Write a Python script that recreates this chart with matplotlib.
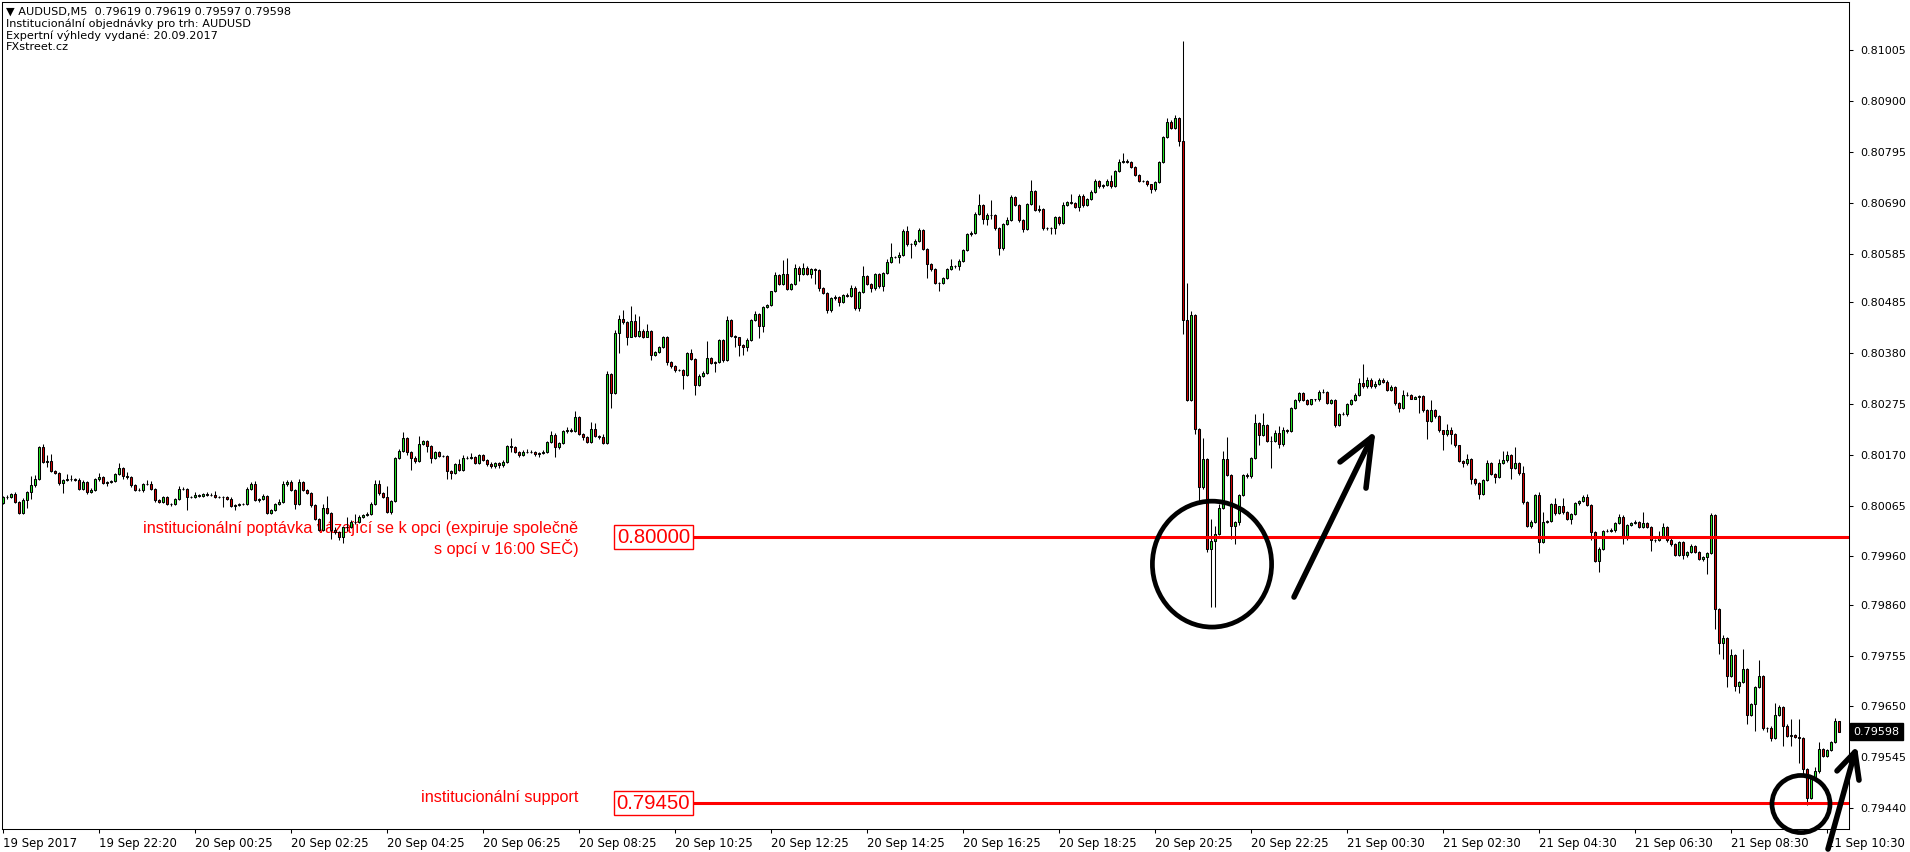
import matplotlib
matplotlib.use("Agg")
import matplotlib.pyplot as plt
from matplotlib.patches import Ellipse
import numpy as np

# ---------------- data (prices in points, 1 point = 0.00001) ----------------
POINT = 1e-5
FIRST_OPEN = 80070
CLOSE = [
    80082, 80083, 80088, 80073, 80050, 80077, 80093, 80107, 80119, 80185, 80154, 80157, 80137, 80133, 80111, 80117, 80119, 80120, 80118, 80100,
    80114, 80093, 80098, 80119, 80123, 80112, 80114, 80115, 80130, 80142, 80126, 80123, 80107, 80098, 80098, 80110, 80110, 80100, 80076, 80073,
    80082, 80069, 80068, 80078, 80100, 80100, 80083, 80083, 80086, 80084, 80088, 80086, 80086, 80083, 80083, 80082, 80079, 80064, 80066, 80069,
    80069, 80100, 80110, 80076, 80078, 80085, 80050, 80055, 80068, 80073, 80109, 80113, 80097, 80069, 80114, 80098, 80090, 80066, 80038, 80015,
    80059, 80050, 80014, 80010, 79999, 80021, 80021, 80031, 80031, 80042, 80045, 80048, 80069, 80110, 80090, 80083, 80052, 80074, 80164, 80178,
    80204, 80176, 80164, 80157, 80192, 80198, 80188, 80164, 80175, 80167, 80167, 80137, 80133, 80150, 80139, 80164, 80164, 80166, 80153, 80169,
    80159, 80150, 80146, 80152, 80148, 80155, 80188, 80186, 80176, 80169, 80176, 80176, 80176, 80171, 80174, 80176, 80197, 80211, 80185, 80195,
    80218, 80222, 80218, 80247, 80213, 80207, 80197, 80224, 80209, 80206, 80195, 80336, 80298, 80421, 80450, 80443, 80414, 80447, 80416, 80426,
    80414, 80426, 80376, 80383, 80392, 80414, 80362, 80353, 80345, 80345, 80335, 80380, 80367, 80314, 80333, 80338, 80369, 80360, 80361, 80406,
    80365, 80449, 80416, 80412, 80397, 80392, 80407, 80449, 80461, 80436, 80475, 80480, 80507, 80542, 80523, 80544, 80513, 80523, 80556, 80544,
    80556, 80544, 80554, 80552, 80514, 80504, 80469, 80494, 80496, 80485, 80500, 80498, 80514, 80473, 80505, 80540, 80523, 80514, 80544, 80518,
    80545, 80568, 80578, 80578, 80583, 80631, 80605, 80605, 80612, 80635, 80595, 80563, 80554, 80525, 80525, 80535, 80554, 80559, 80559, 80569,
    80592, 80625, 80628, 80666, 80685, 80656, 80664, 80664, 80638, 80596, 80646, 80654, 80703, 80685, 80654, 80637, 80687, 80714, 80676, 80677,
    80638, 80638, 80638, 80660, 80648, 80685, 80691, 80690, 80682, 80705, 80685, 80697, 80713, 80736, 80724, 80726, 80736, 80724, 80755, 80775,
    80777, 80775, 80765, 80747, 80736, 80736, 80728, 80718, 80734, 80775, 80827, 80858, 80845, 80866, 80817, 80448, 80283, 80459, 80224, 80104,
    80162, 79975, 79991, 80006, 80059, 80162, 80129, 80022, 80030, 80086, 80129, 80125, 80164, 80236, 80210, 80232, 80199, 80199, 80215, 80193,
    80220, 80218, 80267, 80283, 80298, 80283, 80275, 80284, 80284, 80300, 80300, 80277, 80283, 80232, 80255, 80255, 80275, 80283, 80294, 80318,
    80311, 80325, 80311, 80316, 80325, 80321, 80303, 80310, 80276, 80267, 80293, 80293, 80286, 80290, 80292, 80263, 80240, 80262, 80249, 80220,
    80212, 80220, 80212, 80189, 80157, 80152, 80162, 80120, 80111, 80088, 80118, 80152, 80131, 80123, 80152, 80158, 80169, 80143, 80152, 80132,
    80072, 80022, 80031, 80086, 79989, 80031, 80033, 80069, 80049, 80063, 80051, 80038, 80048, 80070, 80074, 80083, 80067, 80010, 79950, 79976,
    80012, 80012, 80015, 80029, 80041, 79999, 80024, 80029, 80031, 80020, 80029, 80020, 79993, 79993, 80003, 80020, 79993, 79985, 79962, 79989,
    79962, 79969, 79982, 79969, 79955, 79958, 79967, 80045, 79851, 79782, 79791, 79713, 79757, 79693, 79700, 79727, 79633, 79656, 79691, 79713,
    79606, 79606, 79584, 79633, 79648, 79610, 79589, 79591, 79586, 79584, 79520, 79462, 79504, 79517, 79562, 79548, 79560, 79577, 79619, 79598,
]
UP_WICK = [
    2, 3, 3, 5, 2, 4, 2, 19, 9, 3, 8, 12, 14, 2, 2, 2, 11, 8, 2, 3,
    3, 2, 3, 2, 10, 3, 2, 2, 3, 10, 2, 9, 2, 2, 3, 2, 7, 6, 2, 3,
    2, 2, 2, 2, 5, 3, 2, 2, 7, 3, 3, 4, 5, 9, 2, 2, 2, 4, 2, 2,
    2, 3, 4, 5, 2, 3, 2, 3, 3, 6, 7, 4, 4, 2, 5, 2, 2, 2, 2, 2,
    9, 25, 2, 7, 2, 2, 20, 4, 16, 3, 3, 3, 3, 7, 7, 3, 22, 2, 2, 3,
    13, 2, 2, 3, 16, 3, 2, 2, 3, 3, 2, 2, 2, 3, 12, 6, 3, 8, 2, 3,
    3, 3, 4, 3, 2, 3, 3, 16, 2, 2, 4, 5, 3, 2, 2, 3, 2, 8, 3, 2,
    2, 6, 4, 13, 2, 2, 2, 14, 12, 2, 6, 6, 2, 7, 9, 19, 3, 31, 14, 31,
    3, 14, 2, 2, 3, 2, 2, 2, 2, 2, 2, 2, 8, 2, 3, 4, 35, 3, 2, 2,
    2, 8, 2, 2, 2, 2, 3, 2, 5, 2, 2, 2, 2, 5, 2, 28, 32, 2, 7, 3,
    10, 4, 2, 2, 2, 2, 2, 2, 4, 2, 2, 3, 6, 4, 2, 20, 2, 2, 2, 2,
    2, 6, 29, 2, 6, 5, 12, 2, 4, 3, 2, 2, 2, 2, 2, 2, 2, 15, 3, 5,
    3, 3, 3, 5, 23, 2, 5, 31, 2, 2, 3, 6, 4, 2, 2, 2, 2, 24, 2, 8,
    2, 2, 2, 2, 3, 6, 3, 17, 2, 4, 3, 3, 3, 3, 2, 3, 3, 12, 3, 5,
    17, 3, 2, 2, 2, 2, 2, 2, 2, 2, 2, 7, 3, 6, 2, 207, 76, 7, 2, 2,
    43, 2, 47, 16, 10, 16, 45, 2, 3, 2, 2, 3, 2, 18, 2, 25, 2, 10, 7, 14,
    8, 3, 2, 3, 2, 2, 2, 2, 2, 3, 6, 2, 2, 2, 2, 4, 2, 3, 4, 10,
    39, 6, 3, 6, 4, 3, 4, 3, 2, 3, 10, 6, 2, 2, 2, 2, 2, 21, 2, 2,
    2, 14, 8, 2, 2, 2, 9, 2, 2, 2, 2, 6, 2, 2, 10, 20, 9, 2, 34, 2,
    14, 2, 5, 2, 6, 20, 2, 2, 12, 2, 18, 2, 2, 2, 2, 3, 6, 2, 2, 3,
    2, 4, 3, 2, 7, 4, 2, 2, 4, 2, 22, 3, 2, 2, 10, 8, 2, 10, 2, 2,
    2, 2, 3, 2, 2, 2, 2, 4, 2, 2, 7, 2, 12, 2, 2, 42, 2, 2, 2, 33,
    2, 2, 3, 25, 6, 2, 4, 33, 2, 38, 3, 2, 2, 8, 15, 2, 3, 2, 7, 0,
]
DN_WICK = [
    1, 3, 2, 2, 3, 2, 18, 14, 3, 2, 2, 9, 2, 3, 4, 21, 2, 3, 3, 3,
    3, 4, 2, 2, 3, 2, 7, 3, 2, 2, 7, 3, 3, 4, 3, 5, 2, 2, 3, 3,
    3, 3, 3, 2, 2, 2, 28, 3, 2, 2, 2, 2, 2, 2, 2, 20, 2, 2, 9, 2,
    2, 2, 2, 2, 3, 2, 2, 3, 2, 2, 2, 3, 2, 12, 2, 2, 2, 5, 3, 3,
    2, 2, 19, 3, 5, 11, 8, 2, 4, 3, 2, 2, 2, 2, 3, 2, 3, 4, 2, 2,
    2, 6, 26, 4, 2, 3, 12, 12, 2, 2, 2, 18, 14, 2, 2, 2, 2, 2, 3, 2,
    3, 4, 3, 3, 5, 3, 3, 10, 3, 3, 2, 3, 3, 4, 6, 3, 2, 2, 19, 3,
    2, 3, 2, 2, 3, 7, 3, 2, 2, 4, 2, 2, 32, 2, 40, 3, 17, 2, 2, 3,
    3, 2, 10, 3, 3, 2, 6, 3, 4, 2, 30, 2, 2, 21, 2, 2, 2, 3, 20, 2,
    3, 2, 2, 20, 24, 16, 8, 3, 2, 25, 13, 3, 3, 2, 3, 3, 2, 2, 2, 16,
    2, 3, 10, 29, 5, 3, 6, 4, 5, 8, 2, 2, 3, 4, 7, 2, 3, 9, 3, 3,
    10, 2, 3, 2, 12, 2, 4, 29, 4, 2, 3, 28, 4, 2, 18, 3, 2, 2, 3, 8,
    2, 2, 3, 2, 2, 9, 12, 8, 3, 14, 3, 2, 2, 2, 3, 8, 2, 2, 3, 5,
    3, 4, 13, 12, 3, 2, 2, 3, 3, 8, 3, 2, 2, 2, 3, 3, 2, 3, 2, 2,
    3, 3, 2, 2, 3, 3, 3, 7, 3, 2, 2, 2, 2, 2, 10, 29, 2, 2, 11, 31,
    4, 7, 120, 136, 2, 2, 4, 27, 37, 5, 2, 3, 3, 2, 21, 2, 2, 56, 3, 10,
    5, 3, 2, 2, 5, 2, 2, 2, 3, 3, 2, 2, 2, 4, 3, 3, 5, 2, 3, 3,
    4, 3, 3, 3, 2, 3, 2, 2, 3, 8, 2, 2, 2, 2, 34, 5, 37, 3, 4, 3,
    32, 3, 19, 4, 3, 7, 3, 10, 3, 9, 2, 2, 3, 12, 2, 2, 3, 23, 2, 3,
    4, 2, 3, 3, 22, 2, 2, 3, 3, 2, 3, 3, 12, 2, 3, 2, 3, 17, 2, 23,
    2, 2, 2, 5, 2, 13, 6, 2, 2, 2, 2, 2, 21, 3, 2, 2, 3, 3, 2, 2,
    8, 3, 2, 2, 3, 5, 35, 2, 41, 24, 33, 22, 2, 10, 15, 2, 20, 2, 56, 3,
    4, 8, 5, 2, 3, 42, 3, 20, 2, 50, 10, 16, 3, 3, 5, 3, 2, 2, 2, 1,
]

X_LABELS = ["19 Sep 2017", "19 Sep 22:20", "20 Sep 00:25", "20 Sep 02:25", "20 Sep 04:25",
            "20 Sep 06:25", "20 Sep 08:25", "20 Sep 10:25", "20 Sep 12:25", "20 Sep 14:25",
            "20 Sep 16:25", "20 Sep 18:25", "20 Sep 20:25", "20 Sep 22:25", "21 Sep 00:30",
            "21 Sep 02:30", "21 Sep 04:30", "21 Sep 06:30", "21 Sep 08:30", "21 Sep 10:30"]
BARS_PER_LABEL = 24
Y_TICKS = [0.81005, 0.80900, 0.80795, 0.80690, 0.80585, 0.80485, 0.80380, 0.80275,
           0.80170, 0.80065, 0.79960, 0.79860, 0.79755, 0.79650, 0.79545, 0.79440]
LEVELS = [0.80000, 0.79450]
LEVEL_NOTES = ["institucionální poptávka vázající se k opci (expiruje společně\ns opcí v 16:00 SEČ)",
               "institucionální support"]
HEADER = ["\u25BC AUDUSD,M5  0.79619 0.79619 0.79597 0.79598",
          "Institucionální objednávky pro trh: AUDUSD",
          "Expertní výhledy vydané: 20.09.2017",
          "FXstreet.cz"]
LAST_PRICE = 0.79598

# ---------------- derived OHLC ----------------
close = np.array(CLOSE, dtype=float) * POINT
open_ = np.concatenate([[FIRST_OPEN], CLOSE[:-1]]).astype(float) * POINT
high = np.maximum(open_, close) + np.array(UP_WICK) * POINT
low = np.minimum(open_, close) - np.array(DN_WICK) * POINT
x = np.arange(len(close))

GREEN = "#22e622"
RED = "#d40000"

W, H = 1910, 852
fig = plt.figure(figsize=(W / 100, H / 100), dpi=100)
fig.patch.set_facecolor("white")
L, R, T, B = 1.5, 1849, 2.4, 829
ax = fig.add_axes([L / W, 1 - B / H, (R - L) / W, (B - T) / H])
ax.set_xlim(-0.375, 461.5)
ax.set_ylim(0.79397, 0.81104)

# candles
ax.vlines(x, low, high, color="black", lw=0.75, zorder=3)
bull = close >= open_
ax.bar(x, np.abs(close - open_), bottom=np.minimum(open_, close), width=0.55,
       color=np.where(bull, GREEN, RED), edgecolor="black", linewidth=0.75, zorder=4)

# levels
LINE_START = 171.5
BOX_X = 162.6
NOTE_X = 143.8
for lvl, note, dy in zip(LEVELS, LEVEL_NOTES, [-1.5, 4.5]):
    ax.hlines(lvl, LINE_START, 461.5, color="red", lw=2.2, zorder=5)
    ax.annotate(f"{lvl:.5f}", xy=(BOX_X, lvl), ha="center", va="center", fontsize=14.6,
                family="Liberation Sans", color="red", zorder=5,
                bbox=dict(boxstyle="square,pad=0.13", fc="white", ec="red", lw=1.0))
    ax.annotate(note, xy=(NOTE_X, lvl), xytext=(0, dy), textcoords="offset points",
                ha="right", va="center", multialignment="right", fontsize=11.7,
                family="Liberation Sans", color="red", zorder=2, linespacing=1.15)

# hand-drawn circles and arrows
hand = dict(color="black", lw=4.0, solid_capstyle="round", solid_joinstyle="round",
            clip_on=False, zorder=7)
ax.add_patch(Ellipse((302.25, 0.79944), 29.8, 0.00260, fill=False, ec="black", lw=3.4, zorder=7))
ax.add_patch(Ellipse((449.5, 0.794486), 14.5, 0.00118, fill=False, ec="black", lw=3.4,
                     zorder=7, clip_on=False))
for tail, tip, h1, h2 in [((322.75, 0.79876), (342.25, 0.802065), (334.25, 0.80155), (340.75, 0.80101)),
                          ((456.25, 0.793556), (463.0, 0.79556), (458.5, 0.79517), (464.0, 0.79498))]:
    ax.plot([tail[0], tip[0]], [tail[1], tip[1]], **hand)
    ax.plot([h1[0], tip[0], h2[0]], [h1[1], tip[1], h2[1]], **hand)

# axes styling
for s in ax.spines.values():
    s.set_color("black")
    s.set_linewidth(0.75)
ax.yaxis.tick_right()
ax.set_yticks(Y_TICKS)
ax.set_yticklabels([f"{v:.5f}" for v in Y_TICKS])
ax.tick_params(axis="y", direction="out", length=3, width=0.75, pad=5, labelsize=8)
ax.set_xticks(np.arange(len(X_LABELS)) * BARS_PER_LABEL)
ax.set_xticklabels(X_LABELS)
for lbl in ax.get_xticklabels():
    lbl.set_horizontalalignment("left")
ax.tick_params(axis="x", direction="out", length=3, width=0.75, pad=2.5, labelsize=8.4)

# last price marker
ax.annotate(f"{LAST_PRICE:.5f}", xy=(1, LAST_PRICE), xycoords=ax.get_yaxis_transform(),
            xytext=(3.4, 0), textcoords="offset points", ha="left", va="center",
            fontsize=8, color="white", annotation_clip=False,
            bbox=dict(boxstyle="square,pad=0.3", fc="black", ec="black"))

# header
for k, line in enumerate(HEADER):
    fig.text(6 / W, 1 - (12.0 + 11.6 * k) / H, line, ha="left", va="center", fontsize=8.1,
             family="DejaVu Sans", color="black")

fig.savefig("out.png", dpi=100, facecolor="white")
